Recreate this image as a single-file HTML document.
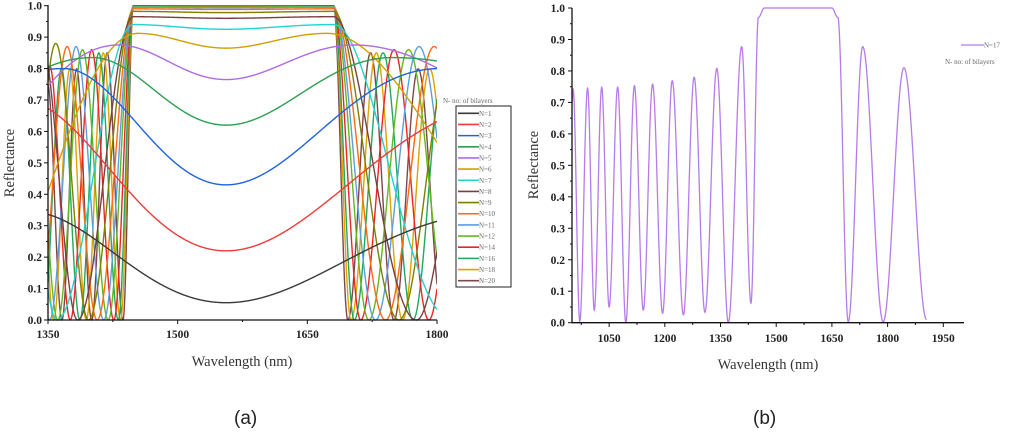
<!DOCTYPE html>
<html><head><meta charset="utf-8"><style>
html,body{margin:0;padding:0;background:#fff;}
svg{display:block;}
.tk{font-family:"Liberation Serif",serif;font-weight:bold;font-size:11.5px;fill:#222;}
.ttl{font-family:"Liberation Serif",serif;font-size:14.5px;fill:#333;}
.cap{font-family:"Liberation Sans",sans-serif;font-size:19px;fill:#222;}
.lg{font-family:"Liberation Serif",serif;font-size:7px;fill:#666;}
</style></head><body>
<svg id="svg" width="1024" height="432" viewBox="0 0 1024 432" xmlns="http://www.w3.org/2000/svg">
<defs>
<clipPath id="clipA"><rect x="48" y="0" width="389" height="321"/></clipPath>
<clipPath id="clipB"><rect x="572" y="0" width="392" height="324"/></clipPath>
</defs>
<g id="chartA"></g>
<g id="chartB"></g>
<text class="cap" x="234" y="424">(a)</text>
<text class="cap" x="753" y="424">(b)</text>
</svg>
<script>
// ---- Chart (a) data ----
const nValues = [1,2,3,4,5,6,7,8,9,10,11,12,14,16,18,20];
const seriesColors = ["#3a3a3a","#f23a3a","#1f62e0","#2e9e50","#b06ae6","#d1a000","#22d3d3","#7a4040","#7f7f00","#ff6a10","#5c9ee0","#62b81e","#ee2424","#20a860","#e0a200","#7e4848"];
const centerR = [0.055,0.22,0.43,0.62,0.765,0.865,0.925,0.96,0.978,0.988,0.993,0.996,0.998,0.999,1.0,1.0];
const peakR   = [0.345,0.70,0.80,0.835,0.875,0.912,0.94,0.965,0.982,0.99,0.995,0.997,0.999,1.0,1.0,1.0];
const edgeF   = [0.172,0.18,0.137,0.11,0.087,0.07,0.074,0.074,0.074,0.074,0.074,0.074,0.074,0.074,0.074,0.074];
const dropF   = [0.5,0.45,0.4,0.35,0.26,0.155,0.07,0.05,0.04,0.032,0.026,0.022,0.017,0.013,0.011,0.009];
const periodF = [0.6,0.5,0.4,0.3,0.2,0.12,0.08,0.07,0.062,0.056,0.051,0.047,0.04,0.035,0.031,0.028];
const sideR   = [0.33,0.66,0.76,0.8,0.83,0.86,0.88,0.88,0.88,0.87,0.87,0.86,0.86,0.85,0.85,0.85];
const centerWl = 1556;
const xTicksA = [1350,1500,1650,1800];
const yTicks = [0,0.1,0.2,0.3,0.4,0.5,0.6,0.7,0.8,0.9,1.0];

// ---- Chart (b) data (extrema) ----
const wlB = [950,953,971,992,1010,1030,1050,1073,1095,1118,1142,1167,1194,1220,1250,1279,1308,1340,1371,1407,1432,1452,1468,1650,1666,1694,1733,1788,1844,1905];
const rB  = [0.70,0.742,0.005,0.745,0.04,0.748,0.05,0.748,0.0,0.753,0.04,0.758,0.03,0.769,0.025,0.78,0.033,0.808,0.0,0.877,0.062,0.97,1.0,1.0,0.97,0.003,0.877,0.003,0.81,0.01];
const xTicksB = [1050,1200,1350,1500,1650,1800,1950];

const NS="http://www.w3.org/2000/svg";
function mk(tag,attrs,parent){const e=document.createElementNS(NS,tag);for(const k in attrs)e.setAttribute(k,attrs[k]);parent.appendChild(e);return e;}

const xA = w => 48 + (w-1350)/450*389;
const yA = r => 320 - r*314.3;
const xB = w => 572 + (w-950)*0.3713;
const yB = r => 322.7 - r*314.7;

function modelR(i,w){
  const f=Math.abs(centerWl/w-1), fe=edgeF[i];
  if(f<=fe){const s=Math.sin(Math.PI/2*f/fe);return centerR[i]+(peakR[i]-centerR[i])*s*s;}
  let u=f-fe; const d=dropF[i];
  if(u<=d){const c=Math.cos(Math.PI/2*u/d);return peakR[i]*c*c;}
  u-=d; const p=periodF[i]; const k=Math.floor(u/p);
  const s=Math.sin(Math.PI*u/p); return sideR[i]*Math.pow(0.94,k)*s*s;
}

const A=document.getElementById('chartA');
const seriesG=mk('g',{'clip-path':'url(#clipA)'},A);


for(let i=nValues.length-1;i>=0;i--){
  let d='';
  for(let w=1350;w<=1800;w+=0.5){d+=(d?'L':'M')+xA(w).toFixed(2)+','+yA(modelR(i,w)).toFixed(2);}
  const p=mk('path',{d:d,fill:'none',stroke:seriesColors[i],'stroke-width':1.4},seriesG);
  
  
}
const axA=mk('path',{d:'M48,5V320H437',fill:'none',stroke:'#111','stroke-width':1.3},A);


for(const t of yTicks){
  mk('line',{x1:48,x2:44,y1:yA(t),y2:yA(t),stroke:'#111'},A);
  const tx=mk('text',{class:'tk',x:42,y:yA(t)+4,'text-anchor':'end'},A);
  tx.textContent=t.toFixed(1);
  
  
  if(t<1) mk('line',{x1:48,x2:46,y1:yA(t+0.05),y2:yA(t+0.05),stroke:'#111'},A);
}
for(let w=1350;w<=1800;w+=75){
  const major=xTicksA.includes(w);
  mk('line',{x1:xA(w),x2:xA(w),y1:320,y2:major?324:322,stroke:'#111'},A);
}
for(const w of xTicksA){
  const tx=mk('text',{class:'tk',x:xA(w),y:338,'text-anchor':'middle'},A);
  tx.textContent=w;
  
  
}
let t1=mk('text',{class:'ttl',x:242,y:366,'text-anchor':'middle'},A);t1.textContent='Wavelength (nm)';


let t2=mk('text',{class:'ttl',x:0,y:0,'text-anchor':'middle',transform:'translate(14,163) rotate(-90)'},A);t2.textContent='Reflectance';


let lt=mk('text',{class:'lg',x:443,y:103,'font-size':'8'},A);lt.textContent='N- no: of bilayers';


const lb=mk('rect',{x:456,y:106,width:55,height:181,fill:'#fff',stroke:'#222','stroke-width':1},A);


nValues.forEach((n,i)=>{
  const y=113.3+i*11.16;
  const g=mk('g',{},A);
  
  
  mk('line',{x1:458,x2:479,y1:y,y2:y,stroke:seriesColors[i],'stroke-width':1.6},g);
  const tx=mk('text',{class:'lg',x:479,y:y+2.5},g);tx.textContent='N='+n;
});

const B=document.getElementById('chartB');
let dB='';
for(let k=0;k<wlB.length-1;k++){
  const w0=wlB[k],w1=wlB[k+1],r0=rB[k],r1=rB[k+1];
  const steps=Math.max(4,Math.ceil((w1-w0)/0.5));
  for(let s=(k===0?0:1);s<=steps;s++){
    const t=s/steps, w=w0+(w1-w0)*t, r=r0+(r1-r0)*(1-Math.cos(Math.PI*t))/2;
    dB+=(dB?'L':'M')+xB(w).toFixed(2)+','+yB(r).toFixed(2);
  }
}
const pb=mk('path',{d:dB,fill:'none',stroke:'#b77bea','stroke-width':1.3,'clip-path':'url(#clipB)'},B);


const axB=mk('path',{d:'M572,8V322.7H964',fill:'none',stroke:'#111','stroke-width':1.3},B);


for(const t of yTicks){
  mk('line',{x1:572,x2:568,y1:yB(t),y2:yB(t),stroke:'#111'},B);
  const tx=mk('text',{class:'tk',x:565,y:yB(t)+4,'text-anchor':'end'},B);
  tx.textContent=t.toFixed(1);
  
  
  if(t<1) mk('line',{x1:572,x2:570,y1:yB(t+0.05),y2:yB(t+0.05),stroke:'#111'},B);
}
for(let w=975;w<=1950;w+=75){
  const major=xTicksB.includes(w);
  mk('line',{x1:xB(w),x2:xB(w),y1:322.7,y2:major?327:325,stroke:'#111'},B);
}
for(const w of xTicksB){
  const tx=mk('text',{class:'tk',x:xB(w),y:342,'text-anchor':'middle'},B);
  tx.textContent=w;
  
  
}
let t3=mk('text',{class:'ttl',x:768,y:369,'text-anchor':'middle'},B);t3.textContent='Wavelength (nm)';


let t4=mk('text',{class:'ttl',x:0,y:0,'text-anchor':'middle',transform:'translate(538,165) rotate(-90)'},B);t4.textContent='Reflectance';


const gl=mk('g',{},B);


mk('line',{x1:961,x2:984,y1:45,y2:45,stroke:'#b77bea','stroke-width':1.3},gl);
let l1=mk('text',{class:'lg',x:984,y:47.5},gl);l1.textContent='N=17';
let l2=mk('text',{class:'lg',x:945,y:64,'font-size':'8.5'},gl);l2.textContent='N- no: of bilayers';
</script>
</body></html>
